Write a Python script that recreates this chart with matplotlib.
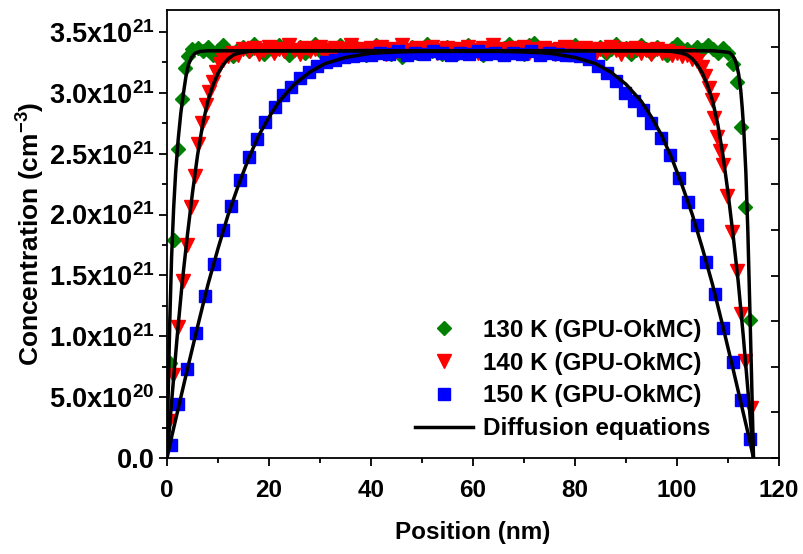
import matplotlib
matplotlib.use("Agg")
import matplotlib.pyplot as plt
from matplotlib.ticker import FixedLocator, FixedFormatter, MultipleLocator

plt.rcParams['font.family'] = ['Liberation Sans', 'DejaVu Sans']
plt.rcParams['font.weight'] = 'bold'
plt.rcParams['font.size'] = 17.5
plt.rcParams['mathtext.fontset'] = 'custom'
plt.rcParams['mathtext.rm'] = 'Liberation Sans:bold'
plt.rcParams['mathtext.it'] = 'Liberation Sans:bold'
plt.rcParams['mathtext.bf'] = 'Liberation Sans:bold'
plt.rcParams['mathtext.sf'] = 'Liberation Sans:bold'

# concentration in units of 1e21 cm^-3, position in nm

# 130 K (GPU-OkMC)
green_x_left = [0.5, 1.4, 2.2, 2.9, 3.5, 4.2, 5.0]
green_y_left = [0.78, 1.79, 2.54, 2.95, 3.20, 3.30, 3.36]
green_x_mid = [6, 7, 8, 9, 10, 11, 12, 13, 14, 15,
               16, 17, 18, 19, 20, 21, 22, 23, 24, 25,
               26, 27, 28, 29, 30, 31, 32, 33, 34, 35,
               36, 37, 38, 39, 40, 41, 42, 43, 44, 45,
               46, 47, 48, 49, 50, 51, 52, 53, 54, 55,
               56, 57, 58, 59, 60, 61, 62, 63, 64, 65,
               66, 67, 68, 69, 70, 71, 72, 73, 74, 75,
               76, 77, 78, 79, 80, 81, 82, 83, 84, 85,
               86, 87, 88, 89, 90, 91, 92, 93, 94, 95,
               96, 97, 98, 99, 100, 101, 102, 103, 104, 105,
               106, 107, 108, 109, 110]
green_y_mid = [3.37, 3.34, 3.38, 3.31, 3.35, 3.39, 3.33, 3.30, 3.36, 3.38,
               3.34, 3.40, 3.35, 3.32, 3.37, 3.34, 3.39, 3.36, 3.31, 3.35,
               3.38, 3.33, 3.36, 3.40, 3.34, 3.37, 3.32, 3.36, 3.39, 3.35,
               3.33, 3.38, 3.36, 3.31, 3.35, 3.39, 3.34, 3.37, 3.32, 3.36,
               3.29, 3.35, 3.38, 3.33, 3.37, 3.40, 3.34, 3.36, 3.32, 3.38,
               3.35, 3.33, 3.37, 3.39, 3.34, 3.36, 3.31, 3.38, 3.35, 3.33,
               3.37, 3.40, 3.34, 3.36, 3.32, 3.39, 3.41, 3.35, 3.33, 3.37,
               3.34, 3.38, 3.32, 3.36, 3.39, 3.35, 3.31, 3.37, 3.34, 3.38,
               3.33, 3.36, 3.40, 3.34, 3.37, 3.32, 3.35, 3.39, 3.36, 3.33,
               3.38, 3.35, 3.31, 3.37, 3.40, 3.34, 3.36, 3.32, 3.38, 3.35,
               3.39, 3.36, 3.33, 3.37, 3.33]
green_x_right = [111.0, 111.8, 112.6, 113.4, 114.3]
green_y_right = [3.24, 3.09, 2.72, 2.06, 1.13]

# 140 K (GPU-OkMC)
red_x_left = [0.4, 1.1, 2.2, 3.1, 3.9, 4.7, 5.5, 6.1, 6.8, 7.7, 8.3, 9.0, 9.6, 10.4]
red_y_left = [0.30, 0.68, 1.08, 1.45, 1.75, 2.06, 2.32, 2.58, 2.75, 2.90, 3.01, 3.09, 3.17, 3.24]
red_x_mid = [11, 12, 13, 14, 15, 16, 17, 18, 19, 20,
             21, 22, 23, 24, 25, 26, 27, 28, 29, 30,
             31, 32, 33, 34, 35, 36, 37, 38, 39, 40,
             41, 42, 43, 44, 45, 46, 47, 48, 49, 50,
             51, 52, 53, 54, 55, 56, 57, 58, 59, 60,
             61, 62, 63, 64, 65, 66, 67, 68, 69, 70,
             71, 72, 73, 74, 75, 76, 77, 78, 79, 80,
             81, 82, 83, 84, 85, 86, 87, 88, 89, 90,
             91, 92, 93, 94, 95, 96, 97, 98, 99, 100,
             101, 102, 103, 104]
red_y_mid = [3.27, 3.30, 3.33, 3.31, 3.36, 3.34, 3.37, 3.32, 3.35, 3.38,
             3.33, 3.36, 3.34, 3.39, 3.35, 3.32, 3.37, 3.34, 3.36, 3.38,
             3.33, 3.35, 3.37, 3.32, 3.36, 3.39, 3.34, 3.36, 3.33, 3.37,
             3.35, 3.38, 3.32, 3.36, 3.34, 3.39, 3.35, 3.33, 3.37, 3.34,
             3.36, 3.38, 3.33, 3.35, 3.37, 3.32, 3.36, 3.34, 3.38, 3.35,
             3.33, 3.37, 3.35, 3.39, 3.34, 3.36, 3.32, 3.37, 3.35, 3.38,
             3.33, 3.36, 3.34, 3.37, 3.35, 3.32, 3.36, 3.38, 3.34, 3.36,
             3.33, 3.37, 3.35, 3.31, 3.36, 3.34, 3.38, 3.35, 3.32, 3.36,
             3.34, 3.37, 3.33, 3.35, 3.32, 3.36, 3.33, 3.34, 3.31, 3.33,
             3.30, 3.31, 3.28, 3.26]
red_x_right = [104.9, 105.5, 106.3, 106.8, 107.3, 107.9, 108.5, 109.1, 109.8, 110.8,
               111.7, 112.5, 113.4, 114.5]
red_y_right = [3.21, 3.14, 3.04, 2.94, 2.79, 2.64, 2.52, 2.41, 2.15, 1.86,
               1.54, 1.18, 0.80, 0.41]

# 150 K (GPU-OkMC)
blue_x = [0.7, 2.2, 4.0, 5.7, 7.5, 9.3, 11.0, 12.6, 14.4, 16.0,
          17.7, 19.3, 21.1, 22.8, 24.4, 26.1, 27.8, 29.5, 31.2, 33.0,
          34.7, 36.5, 38.2, 40.0, 41.7, 43.5, 45.2, 47.0, 48.7, 50.4,
          52.2, 53.9, 55.7, 57.4, 59.2, 60.9, 62.6, 64.4, 66.1, 67.9,
          69.6, 71.4, 73.1, 74.9, 76.6, 78.3, 79.6, 81.0, 82.8, 84.5,
          86.3, 88.0, 89.8, 91.5, 93.3, 95.0, 96.8, 98.6, 100.3, 102.1,
          103.9, 105.6, 107.4, 109.1, 110.9, 112.6, 114.4]
blue_y = [0.11, 0.44, 0.73, 1.03, 1.33, 1.59, 1.87, 2.07, 2.28, 2.47,
          2.62, 2.76, 2.88, 2.98, 3.05, 3.12, 3.17, 3.22, 3.25, 3.27,
          3.29, 3.30, 3.31, 3.31, 3.33, 3.32, 3.34, 3.31, 3.33, 3.32,
          3.34, 3.33, 3.31, 3.33, 3.32, 3.34, 3.32, 3.33, 3.31, 3.33,
          3.32, 3.34, 3.31, 3.33, 3.32, 3.31, 3.31, 3.30, 3.28, 3.22,
          3.16, 3.10, 3.00, 2.93, 2.86, 2.75, 2.63, 2.49, 2.30, 2.10,
          1.91, 1.61, 1.35, 1.07, 0.79, 0.48, 0.16]

# diffusion equation curves
line130_x = [0, 0.25, 0.55, 0.9, 1.3, 1.7, 2.2, 2.7, 3.2, 3.7, 4.2, 4.8, 5.5, 6.5, 8.0,
             57.5, 107.0, 108.5, 109.5, 110.3, 110.8, 111.3, 111.7, 112.1, 112.5, 112.8,
             113.1, 113.5, 113.9, 114.3, 114.6, 115.0]
line130_y = [0, 0.55, 1.13, 1.65, 2.05, 2.35, 2.62, 2.83, 2.99, 3.13, 3.23, 3.29, 3.325, 3.34, 3.345,
             3.345, 3.345, 3.34, 3.335, 3.33, 3.31, 3.28, 3.23, 3.15, 3.02, 2.87,
             2.69, 2.35, 1.85, 1.2, 0.7, 0.0]
line140_x = [0, 1, 2, 3, 4, 5, 6, 7, 8, 9, 10, 11, 12, 13, 14, 16, 18,
             57.5, 97, 99, 101, 102, 103, 104, 105, 106, 107, 108, 109, 110, 111, 112, 113, 114, 115]
line140_y = [0, 0.51, 1.0, 1.45, 1.83, 2.18, 2.49, 2.74, 2.93, 3.06, 3.16, 3.23, 3.28, 3.31, 3.325, 3.34, 3.345,
             3.345, 3.345, 3.34, 3.325, 3.31, 3.28, 3.23, 3.16, 3.06, 2.93, 2.74, 2.49, 2.18, 1.83, 1.45, 1.0, 0.51, 0]
line150_x = [0, 1, 2, 4, 6, 8, 10, 12, 14, 16, 18, 20, 22, 25, 28, 31, 35, 40, 45, 50,
             57.5, 65, 70, 75, 80, 84, 87, 90, 93, 95, 97, 99, 101, 103, 105, 107, 109, 111, 113, 114, 115]
line150_y = [0, 0.19, 0.37, 0.73, 1.08, 1.42, 1.72, 2.0, 2.24, 2.46, 2.65, 2.80, 2.93, 3.07, 3.17, 3.24, 3.29, 3.325, 3.335, 3.34,
             3.34, 3.34, 3.335, 3.325, 3.29, 3.24, 3.17, 3.07, 2.93, 2.80, 2.65, 2.46, 2.24, 2.0, 1.72, 1.42, 1.08, 0.73, 0.37, 0.19, 0]

y_ticks = [0, 0.5, 1.0, 1.5, 2.0, 2.5, 3.0, 3.5]
y_tick_labels = ['0.0', r'5.0x10$^{20}$', r'1.0x10$^{21}$', r'1.5x10$^{21}$',
                 r'2.0x10$^{21}$', r'2.5x10$^{21}$', r'3.0x10$^{21}$', r'3.5x10$^{21}$']


def main():
    fig = plt.figure(figsize=(8.04, 5.54), dpi=100)
    ax = fig.add_axes([167 / 804, 96 / 554, 612 / 804, 448 / 554])

    ax.plot(green_x_left + green_x_mid + green_x_right,
            green_y_left + green_y_mid + green_y_right,
            linestyle='none', marker='D', ms=7, color='#008000', mec='#008000',
            label='130 K (GPU-OkMC)', zorder=2)
    ax.plot(red_x_left + red_x_mid + red_x_right,
            red_y_left + red_y_mid + red_y_right,
            linestyle='none', marker='v', ms=9.5, color='#ff0000', mec='#ff0000',
            label='140 K (GPU-OkMC)', zorder=2)
    ax.plot(blue_x, blue_y, linestyle='none', marker='s', ms=8.5, color='#0000ff',
            mec='#0000ff', label='150 K (GPU-OkMC)', zorder=2)

    ax.plot(line130_x, line130_y, color='black', lw=2.5, zorder=3)
    ax.plot(line140_x, line140_y, color='black', lw=2.5, zorder=3)
    ax.plot(line150_x, line150_y, color='black', lw=2.5, zorder=3,
            label='Diffusion equations')

    ax.set_xlim(0, 120)
    ax.set_ylim(0, 3.68)
    ax.xaxis.set_major_locator(MultipleLocator(20))
    ax.xaxis.set_minor_locator(MultipleLocator(10))
    ax.yaxis.set_major_locator(FixedLocator(y_ticks))
    ax.yaxis.set_major_formatter(FixedFormatter(y_tick_labels))
    ax.yaxis.set_minor_locator(MultipleLocator(0.25))

    ax.tick_params(which='both', direction='out', width=1.3, top=False, right=False)
    ax.tick_params(which='major', length=6)
    ax.tick_params(which='minor', length=3.5)
    ax.tick_params(axis='x', pad=9, labelsize=17.5)
    ax.tick_params(axis='y', pad=3, labelsize=19.5)
    for spine in ax.spines.values():
        spine.set_linewidth(1.3)

    # right axis carries its own inward ticks
    right = ax.twinx()
    right.set_ylim(0, 9.82)
    right.yaxis.set_major_locator(MultipleLocator(1))
    right.tick_params(axis='y', direction='in', length=6, width=1.3, labelright=False)
    for spine in right.spines.values():
        spine.set_visible(False)

    ax.set_xlabel('Position (nm)', fontweight='bold', labelpad=14)
    ax.set_ylabel('Concentration (cm$^{-3}$)', fontweight='bold', fontsize=19,
                  labelpad=1)

    ax.legend(loc='lower left', bbox_to_anchor=(0.405, 0.04), frameon=False,
              numpoints=1, handlelength=2.4, handletextpad=0.4, labelspacing=0.4,
              borderpad=0, borderaxespad=0)

    fig.savefig('out.png', dpi=100)


if __name__ == "__main__":
    main()
